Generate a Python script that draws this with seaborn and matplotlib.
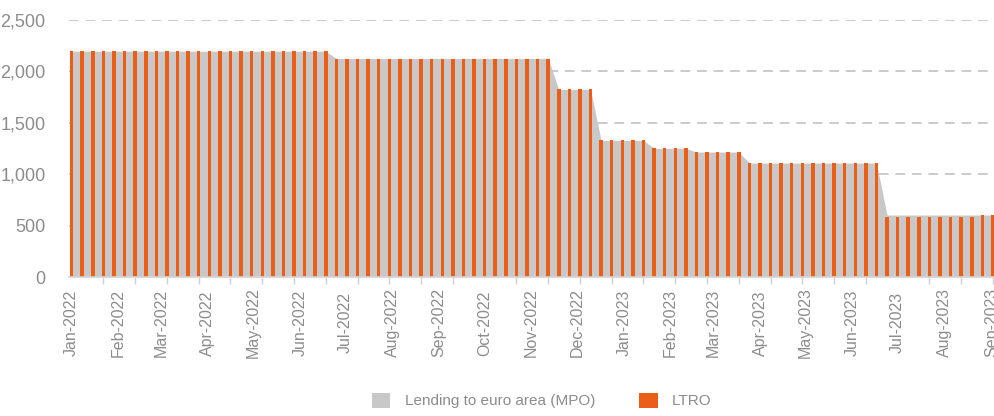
import datetime as dt

import matplotlib
matplotlib.use("Agg")
import matplotlib.pyplot as plt
from matplotlib.patches import Patch
import numpy as np
import pandas as pd
import seaborn as sns

# Weekly financial statement dates (Fridays)
first_week = dt.date(2022, 1, 7)

# Outstanding amounts (EUR bn) held for consecutive runs of weeks
run_lengths = [25, 21, 4, 5, 4, 5, 13, 9, 2]
mpo_levels = [2194, 2123, 1822, 1327, 1250, 1214, 1107, 602, 602]
ltro_levels = [2194, 2123, 1822, 1327, 1250, 1214, 1107, 583, 602]

month_labels = ["Jan-2022", "Feb-2022", "Mar-2022", "Apr-2022", "May-2022",
                "Jun-2022", "Jul-2022", "Aug-2022", "Sep-2022", "Oct-2022",
                "Nov-2022", "Dec-2022", "Jan-2023", "Feb-2023", "Mar-2023",
                "Apr-2023", "May-2023", "Jun-2023", "Jul-2023", "Aug-2023",
                "Sep-2023"]
y_ticks = [0, 500, 1000, 1500, 2000, 2500]

mpo = np.repeat(mpo_levels, run_lengths)
ltro = np.repeat(ltro_levels, run_lengths)
n_weeks = len(mpo)
weeks = np.arange(n_weeks)
df = pd.DataFrame({"week": weeks, "MPO": mpo, "LTRO": ltro})

ORANGE = "#EB5E18"
GREY_AREA = "#C8C8C8"
TEXT = "#8C8C8C"

sns.set_theme(style="white")
plt.rcParams["font.family"] = ["DejaVu Sans Condensed", "Liberation Sans Narrow",
                               "Liberation Sans"]

fig = plt.figure(figsize=(9.94, 4.16), dpi=100)
ax = fig.add_axes([69 / 994, 139 / 416, (994 - 69) / 994, (277 - 19.7) / 416])

# dashed horizontal gridlines sit behind everything
for v in y_ticks[1:]:
    ax.axhline(v, color="#CBCBCB", lw=1.4, ls=(0, (5, 3.5)), zorder=0)

ax.fill_between(df["week"], 0, df["MPO"], color=GREY_AREA, lw=0, zorder=1)
sns.barplot(data=df, x="week", y="LTRO", color=ORANGE, width=0.33,
            native_scale=True, saturation=1, edgecolor="none", linewidth=0,
            ax=ax, zorder=2)

ax.set_xlim(-0.25, 87.1)
ax.set_ylim(0, 2500)

# y axis
ax.set_yticks(y_ticks)
ax.set_yticklabels([f"{v:,}" for v in y_ticks])
ax.tick_params(axis="y", length=0, pad=17, labelsize=13, labelcolor=TEXT)

# x axis: month labels on the 7th, small tick marks every three weeks
month_pos = []
for i in range(len(month_labels)):
    d = dt.date(2022 + (i // 12), i % 12 + 1, 7)
    month_pos.append((d - first_week).days / 7)
ax.set_xticks(month_pos)
ax.set_xticklabels(month_labels, rotation=90)
ax.set_xticks(np.arange(0, n_weeks, 3), minor=True)
ax.tick_params(axis="x", which="major", length=0, pad=33, labelsize=11.5,
               labelcolor=TEXT)
ax.tick_params(axis="x", which="minor", bottom=True, length=5, width=1,
               color="#D0D0D0", direction="out")
for lbl in ax.get_xticklabels():
    lbl.set_va("center")
ax.set_xlabel("")
ax.set_ylabel("")

for s in ["top", "right", "left"]:
    ax.spines[s].set_visible(False)
ax.spines["bottom"].set_color("#D6D6D6")
ax.spines["bottom"].set_linewidth(1.2)
ax.set_facecolor("none")

handles = [Patch(facecolor=GREY_AREA, edgecolor="none"),
           Patch(facecolor=ORANGE, edgecolor="none")]
fig.legend(handles, ["Lending to euro area (MPO)", "LTRO"], loc="center",
           bbox_to_anchor=(0.545, 15.5 / 416), ncol=2, frameon=False,
           handlelength=1.2, handleheight=1.2, handletextpad=0.95,
           columnspacing=2.9, fontsize=11, labelcolor=TEXT)

fig.savefig("out.png", dpi=100)
